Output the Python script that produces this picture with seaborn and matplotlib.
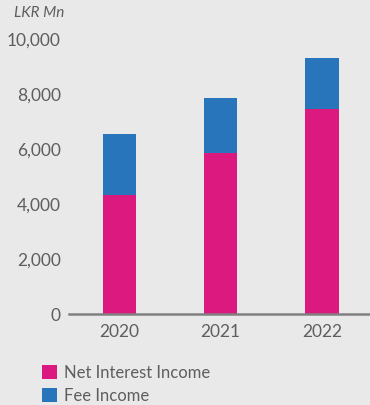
import matplotlib
matplotlib.use("Agg")
import matplotlib.pyplot as plt
from matplotlib.patches import Patch
import seaborn as sns
import pandas as pd

years = ["2020", "2021", "2022"]
net_interest_income = [4340, 5860, 7465]
fee_income = [2215, 2005, 1855]
y_ticks = [0, 2000, 4000, 6000, 8000, 10000]

PINK = "#DC197F"
BLUE = "#2875BB"
BG = "#E9E9E9"
TEXT = "#5E5E5E"

sns.set_theme(style="white")
plt.rcParams["font.family"] = ["Lato", "DejaVu Sans"]

df = pd.DataFrame({
    "year": years,
    "nii": net_interest_income,
    "fee": fee_income,
})
df["total"] = df["nii"] + df["fee"]

fig = plt.figure(figsize=(3.7, 4.05), dpi=100, facecolor=BG)
ax = fig.add_axes([0.1865, 0.224, 0.82, 0.679])
ax.set_facecolor(BG)

# stacked bars: full total in blue, net interest income drawn over it
sns.barplot(data=df, x="year", y="total", color=BLUE, width=0.33,
            saturation=1, linewidth=0, ax=ax)
sns.barplot(data=df, x="year", y="nii", color=PINK, width=0.33,
            saturation=1, linewidth=0, ax=ax)

ax.set_xlim(-0.5, 2.5)
ax.set_ylim(0, 10000)
ax.set_yticks(y_ticks)
ax.set_yticklabels([f"{v:,}" for v in y_ticks])
ax.set_xlabel("")
ax.set_ylabel("")
ax.tick_params(axis="y", length=0, pad=6, labelsize=12.5, labelcolor=TEXT)
ax.tick_params(axis="x", length=0, pad=7, labelsize=12.5, labelcolor=TEXT)

for side in ["top", "right", "left"]:
    ax.spines[side].set_visible(False)
ax.spines["bottom"].set_color("#808080")
ax.spines["bottom"].set_linewidth(1.8)

fig.text(0.038, 0.968, "LKR Mn", fontsize=11, style="italic",
         color=TEXT, ha="left", va="center")

handles = [Patch(facecolor=PINK, edgecolor="none"),
           Patch(facecolor=BLUE, edgecolor="none")]
fig.legend(handles, ["Net Interest Income", "Fee Income"],
           loc="upper left", bbox_to_anchor=(0.114, 0.1),
           frameon=False, fontsize=12, labelcolor=TEXT,
           handlelength=0.9, handleheight=0.9, handletextpad=0.4,
           labelspacing=0.45, borderaxespad=0, borderpad=0)

fig.savefig("out.png", dpi=100, facecolor=BG)
